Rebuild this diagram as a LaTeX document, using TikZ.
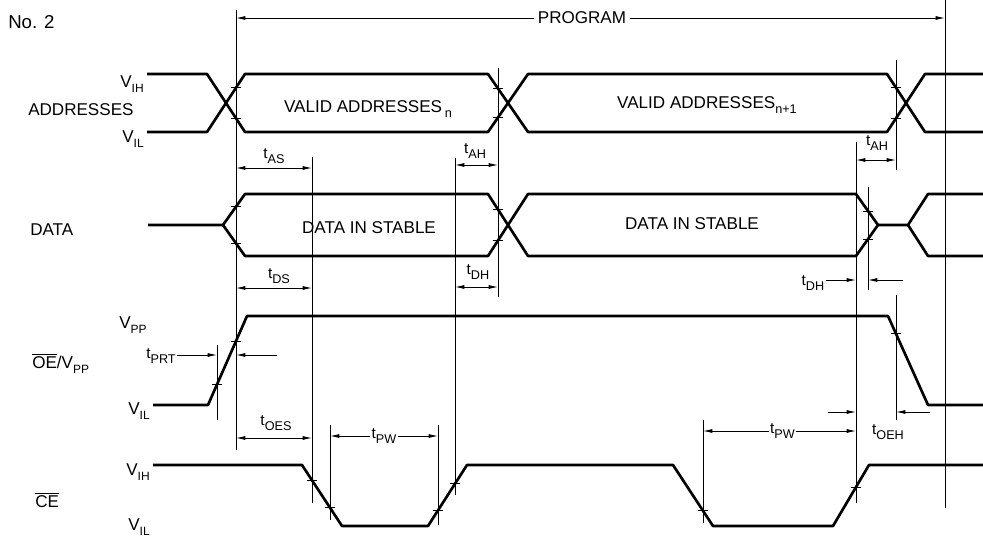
\documentclass[tikz,border=0pt]{standalone}
\usepackage{fontspec}
\setmainfont{Liberation Sans}
\usetikzlibrary{arrows.meta}

\newcommand{\lvl}[2]{#1\raisebox{-0.6ex}{\fontsize{9}{10}\selectfont #2}}
\newcommand{\tdel}[1]{t\raisebox{-0.6ex}{\fontsize{9.5}{10}\selectfont #1}}

\begin{document}
\begin{tikzpicture}[x=0.75pt, y=-0.75pt,
    signal/.style={line width=2pt, line join=round},
    guide/.style={line width=0.6pt},
    dimen/.style={line width=0.6pt, {Latex[length=7pt,width=3pt]}-{Latex[length=7pt,width=3pt]}},
    lead/.style={line width=0.6pt, -{Latex[length=7pt,width=3pt]}},
    txt/.style={font=\fontsize{12.8}{15}\selectfont, inner sep=0pt},
    tlab/.style={font=\fontsize{11.5}{13}\selectfont, inner sep=1pt}]
   \useasboundingbox (0,0) rectangle (983,540);

   % signal names and levels
   \node[txt, anchor=base west, font=\fontsize{14}{16}\selectfont] (no) at (8,28) {No. 2};
   \node[txt, anchor=base west] (addr) at (28,115) {ADDRESSES};
   \node[txt, anchor=base east] (addrH) at (144,87) {\lvl{V}{IH}};
   \node[txt, anchor=base east] (addrL) at (144,142) {\lvl{V}{IL}};
   \node[txt, anchor=base west] (data) at (30,235) {DATA};
   \node[txt, anchor=base east] (oeH) at (147,328) {\lvl{V}{PP}};
   \node[txt, anchor=base west] (oe) at (32,368) {$\overline{\mbox{OE}}$/\lvl{V}{PP}};
   \node[txt, anchor=base east] (oeL) at (150,414) {\lvl{V}{IL}};
   \node[txt, anchor=base east] (ceH) at (150,475) {\lvl{V}{IH}};
   \node[txt, anchor=base west] (ce) at (35,507) {$\overline{\mbox{CE}}$};
   \node[txt, anchor=base east] (ceL) at (150,530) {\lvl{V}{IL}};

   % waveforms
   \draw[signal] (147,74) -- (207,74) -- (245,132) -- (488,132) -- (528,74) -- (887,74) -- (925,132) -- (983,132);
   \draw[signal] (147,132) -- (207,132) -- (245,74) -- (488,74) -- (528,132) -- (887,132) -- (925,74) -- (983,74);
   \draw[signal] (148,225) -- (223,225) -- (245,194) -- (488,194) -- (528,256) -- (856,256) -- (878,225) -- (908,225) -- (928,194) -- (983,194);
   \draw[signal] (223,225) -- (245,256) -- (488,256) -- (528,194) -- (856,194) -- (878,225);
   \draw[signal] (908,225) -- (928,256) -- (983,256);
   \draw[signal] (153,405) -- (208,405) -- (247,316) -- (888,316) -- (928,405) -- (983,405);
   \draw[signal] (153,465) -- (302,465) -- (342,526) -- (428,526) -- (467,465) -- (673,465) -- (713,526) -- (833,526) -- (869,465) -- (983,465);

   \node[txt, anchor=base] (valid1) at (368,112) {VALID ADDRESSES\,\raisebox{-0.6ex}{\fontsize{9.5}{10}\selectfont n}};
   \node[txt, anchor=base] (valid2) at (707,108) {VALID ADDRESSES\raisebox{-0.6ex}{\fontsize{9.5}{10}\selectfont n+1}};
   \node[txt, anchor=base] (stable1) at (369,233) {DATA IN STABLE};
   \node[txt, anchor=base] (stable2) at (692,229) {DATA IN STABLE};

   % reference lines
   \foreach \x/\a/\b in {236/10/450, 217/345/420, 312/157/503, 455/158/495, 498/68/297,
       703/420/523, 856/142/503, 868/187/290, 896/60/170, 896/295/420, 945/0/508,
       330/425/520, 438/425/525}
     \draw[guide] (\x,\a) -- (\x,\b);

   \foreach \x/\y in {236/87.7, 236/118.3, 498/88.5, 498/117.5, 896/87.7, 896/118.3,
       236/206.7, 236/243.3, 498/209.5, 498/240.5, 868/210.9, 868/239.1,
       217/384.5, 236/341, 896/333.8,
       312/480, 330/507.7, 438/510.4, 455/483.8, 703/510.8, 856/487}
     \draw[guide] (\x,\y) ++(-5,0) -- ++(10,0);

   % timing
   \coordinate (progL) at (236,18);
   \coordinate (progR) at (945,18);
   \draw[dimen] (progL) -- node[pos=0.488, txt, fill=white, inner xsep=3pt, inner ysep=2pt] (prog) {PROGRAM} (progR);

   \coordinate (asL) at (236,168);
   \coordinate (asR) at (312,168);
   \draw[dimen] (asL) -- (asR);
   \node[tlab] (tas) at (274,156) {\tdel{AS}};

   \coordinate (ahL) at (455,165);
   \coordinate (ahR) at (498,165);
   \draw[dimen] (ahL) -- (ahR);
   \node[tlab] (tah) at (475,151) {\tdel{AH}};

   \coordinate (ah2L) at (856,160);
   \coordinate (ah2R) at (896,160);
   \draw[dimen] (ah2L) -- (ah2R);
   \node[tlab] (tah2) at (877,143) {\tdel{AH}};

   \coordinate (dsL) at (236,288);
   \coordinate (dsR) at (312,288);
   \draw[dimen] (dsL) -- (dsR);
   \node[tlab] (tds) at (279,276) {\tdel{DS}};

   \coordinate (dhL) at (455,287);
   \coordinate (dhR) at (498,287);
   \draw[dimen] (dhL) -- (dhR);
   \node[tlab] (tdh) at (478,272) {\tdel{DH}};

   \node[tlab] (tdh2) at (813,283) {\tdel{DH}};
   \coordinate (dh2L) at (856,280);
   \coordinate (dh2R) at (868,280);
   \coordinate (dh2E) at (903,280);
   \draw[lead] (tdh2.east |- dh2L) -- (dh2L);
   \draw[lead] (dh2E) -- (dh2R);

   \node[tlab] (tprt) at (161,356) {\tdel{PRT}};
   \coordinate (prtL) at (217,355);
   \coordinate (prtR) at (236,355);
   \coordinate (prtE) at (277,355);
   \draw[lead] (tprt.east |- prtL) -- (prtL);
   \draw[lead] (prtE) -- (prtR);

   \coordinate (oesL) at (236,438);
   \coordinate (oesR) at (312,438);
   \draw[dimen] (oesL) -- (oesR);
   \node[tlab] (toes) at (276,423) {\tdel{OES}};

   \coordinate (pwL) at (330,436);
   \coordinate (pwR) at (438,436);
   \draw[dimen] (pwL) -- node[tlab, fill=white] (tpw) {\tdel{PW}} (pwR);

   \coordinate (pw2L) at (703,431);
   \coordinate (pw2R) at (856,431);
   \draw[dimen] (pw2L) -- node[pos=0.52, tlab, fill=white] (tpw2) {\tdel{PW}} (pw2R);

   \coordinate (oehS) at (828,412);
   \coordinate (oehL) at (856,412);
   \coordinate (oehR) at (896,412);
   \coordinate (oehE) at (930,412);
   \draw[lead] (oehS) -- (oehL);
   \draw[lead] (oehE) -- (oehR);
   \node[tlab] (toeh) at (888,432) {\tdel{OEH}};
\end{tikzpicture}
\end{document}
